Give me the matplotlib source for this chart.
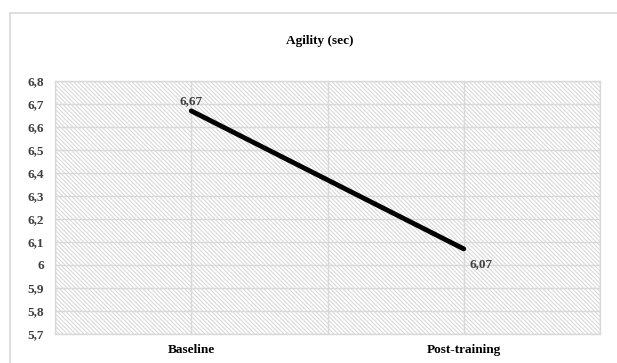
import matplotlib.pyplot as plt
from matplotlib.patches import Rectangle
from matplotlib.ticker import FuncFormatter, MultipleLocator

# data
categories = ["Baseline", "Post-training"]
values = [6.67, 6.07]
labels = ["6,67", "6,07"]

plt.rcParams['font.family'] = ['Liberation Serif', 'DejaVu Serif']
plt.rcParams['hatch.linewidth'] = 0.8
plt.rcParams['hatch.color'] = '#d9d9d9'

W, H = 617, 363
fs = 9.5
fig = plt.figure(figsize=(W / 100, H / 100), dpi=100)
ax = fig.add_axes([55 / W, 1 - 334 / H, (600 - 55) / W, (334 - 81) / H])

# outer chart border (cropped on right and bottom)
fig.patches.append(Rectangle((10 / W, -0.1), 1.2, 0.1 + (H - 13) / H,
                             transform=fig.transFigure, fill=False,
                             edgecolor='#d9d9d9', linewidth=1.2, clip_on=False))

# hatched plot area
ax.add_patch(Rectangle((0, 0), 1, 1, transform=ax.transAxes, facecolor='white',
                       edgecolor='#d9d9d9', hatch='\\' * 8, linewidth=0, zorder=0))

x = list(range(len(categories)))
ax.plot(x, values, color='black', linewidth=3.5, solid_capstyle='round', zorder=3)

ax.annotate(labels[0], (x[0], values[0]), xytext=(0, 3), textcoords='offset points',
            ha='center', va='bottom', fontsize=fs, fontweight='bold', color='#404040')
ax.annotate(labels[1], (x[1], values[1]), xytext=(4.5, -7), textcoords='offset points',
            ha='left', va='top', fontsize=fs, fontweight='bold', color='#404040')

ax.set_xlim(-0.5, 1.5)
ax.set_ylim(5.7, 6.8)
ax.set_xticks(x)
ax.set_xticklabels(categories)
ax.xaxis.set_minor_locator(MultipleLocator(0.5))
ax.yaxis.set_major_locator(MultipleLocator(0.1))
ax.yaxis.set_major_formatter(FuncFormatter(lambda v, p: f"{v:.1f}".replace('.', ',').replace(',0', '')))
ax.grid(True, which='both', color='#d9d9d9', linewidth=1, zorder=1)
ax.set_axisbelow(True)
ax.tick_params(axis='both', which='both', length=0)
ax.tick_params(axis='y', pad=8, labelsize=fs, labelcolor='#404040')
ax.tick_params(axis='x', pad=7, labelsize=fs, labelcolor='black')
for lab in ax.get_xticklabels() + ax.get_yticklabels():
    lab.set_fontweight('bold')
for s in ax.spines.values():
    s.set_color('#d9d9d9')
    s.set_linewidth(1)

fig.text(320 / W, 1 - 41 / H, "Agility (sec)", ha='center', va='center',
         fontsize=fs, fontweight='bold')

fig.savefig("out.png", dpi=100)
